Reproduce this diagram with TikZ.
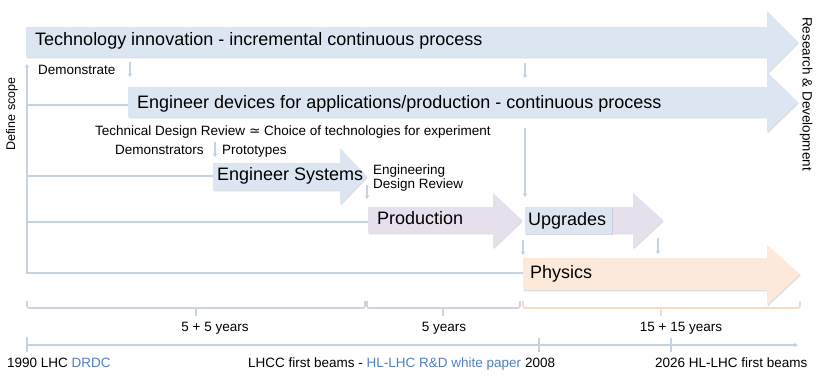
\documentclass[tikz,border=0pt]{standalone}
\usepackage{fontspec}
\setmainfont{Liberation Sans}
\newfontfamily\symfont{DejaVu Sans}
\usetikzlibrary{arrows.meta}
\definecolor{blueF}{HTML}{DCE6F2}
\definecolor{purpleF}{HTML}{E6E0EC}
\definecolor{orangeF}{HTML}{FDE9D9}
\definecolor{lineC}{HTML}{C6D2E1}
\definecolor{braceB}{HTML}{CBD4DF}
\definecolor{braceP}{HTML}{D6CFDE}
\definecolor{braceO}{HTML}{F5DAC4}
\definecolor{linkC}{HTML}{4F81BD}
\definecolor{shadowC}{HTML}{AEB6C0}
\newcommand\bigfnt{\fontsize{18}{20}\selectfont}
\newcommand\smallfnt{\fontsize{13.5}{14}\selectfont}
% #1 fill, #2 x0, #3 head base, #4 tip, #5 body top, #6 body bottom, #7 head top, #8 head bottom
\newcommand\fatarrow[8]{%
  \fill[shadowC, opacity=0.45, xshift=0.8pt, yshift=-1.4pt] (#2,#5) -- (#3,#5) -- (#3,#7) -- (#4,{(#5+#6)/2}) -- (#3,#8) -- (#3,#6) -- (#2,#6) -- cycle;
  \fill[#1] (#2,#5) -- (#3,#5) -- (#3,#7) -- (#4,{(#5+#6)/2}) -- (#3,#8) -- (#3,#6) -- (#2,#6) -- cycle;}
\tikzset{
  bigtxt/.style={font=\bigfnt, inner sep=0pt, anchor=base west},
  smalltxt/.style={font=\smallfnt, inner sep=0pt, anchor=base west},
  guide/.style={draw=lineC, line width=2pt},
  dropar/.style={draw=lineC, line width=1.3pt, -{Stealth[length=3.5pt,width=5pt]}},
  bracket/.style={line width=1.6pt, rounded corners=2pt},
}
\begin{document}
\begin{tikzpicture}[x=1pt, y=-1pt]
\useasboundingbox (0,0) rectangle (822,376);
% coordinates
\coordinate (vtop) at (27,64);
\coordinate (vbot) at (27,273);
% guide lines
\draw[guide, {Stealth[length=4pt,width=5pt]}-] (vtop) -- (vbot) -- (524,273);
\draw[guide] (27,105) -- (130,105);
\draw[guide] (27,176) -- (215,176);
\draw[guide] (27,222) -- (370,222);
% big arrows
\fatarrow{blueF}{26}{767}{798}{27}{57}{11}{73}
\fatarrow{blueF}{128}{767}{798}{87}{117}{72}{132}
\fatarrow{blueF}{213}{340}{367}{163}{190}{148}{204}
\fatarrow{purpleF}{368}{493}{522}{207}{233}{193}{248}
\fatarrow{purpleF}{525}{633}{663}{207}{233}{193}{248}
\fill[shadowC, opacity=0.45, xshift=0.8pt, yshift=-1.4pt] (525,207) rectangle (612,234);
\fill[blueF] (525,207) rectangle (612,234);
\fatarrow{orangeF}{523}{767}{800}{258}{290}{245}{305}
% big texts
\node[bigtxt] (tech) at (35,45.5) {Technology innovation - incremental continuous process};
\node[bigtxt] (devices) at (137,108) {Engineer devices for applications/production - continuous process};
\node[bigtxt] (systems) at (217,180) {Engineer Systems};
\node[bigtxt] (production) at (377,224.5) {Production};
\node[bigtxt] (upgrades) at (528,225) {Upgrades};
\node[bigtxt] (physics) at (530,278) {Physics};
% small texts
\node[smalltxt] (demonstrate) at (38,74) {Demonstrate};
\node[smalltxt] (tdr) at (95,135) {Technical Design Review {\symfont ≃} Choice of technologies for experiment};
\node[smalltxt] (demonstrators) at (115,154) {Demonstrators};
\node[smalltxt] (prototypes) at (222,154) {Prototypes};
\node[smalltxt] (eng1) at (373,174) {Engineering};
\node[smalltxt] (eng2) at (373,188) {Design Review};
\node[font=\smallfnt, inner sep=0pt, rotate=-90] (rd) at (806,94) {Research \& Development};
\node[font=\fontsize{12.5}{13}\selectfont, inner sep=0pt, rotate=90] (scope) at (12,114) {Define scope};
% drop arrows
\draw[dropar] (130,62) -- (130,77);
\draw[dropar] (525,63) -- (525,78);
\draw[dropar] (215,142) -- (215,157);
\draw[dropar] (367,185) -- (367,199);
\draw[dropar] (525,128) -- (525,197);
\draw[dropar] (523,240) -- (523,255);
\draw[dropar] (658,238) -- (658,254);
% brackets
\draw[bracket, draw=braceB] (27,301) -- (27,308) -- (365,308) -- (365,301);
\draw[line width=1.6pt, draw=braceB] (196,308) -- (196,316);
\draw[bracket, draw=braceP] (367,301) -- (367,308) -- (520,308) -- (520,301);
\draw[line width=1.6pt, draw=braceP] (443,308) -- (443,316);
\draw[bracket, draw=braceO] (523,301) -- (523,308) -- (800,308) -- (800,301);
\draw[line width=1.6pt, draw=braceO] (661,308) -- (661,316);
\node[smalltxt, anchor=base] (y1) at (215,331) {5 + 5 years};
\node[smalltxt, anchor=base] (y2) at (444,331) {5 years};
\node[smalltxt, anchor=base] (y3) at (681,331) {15 + 15 years};
% timeline
\coordinate (tl0) at (27,345);
\coordinate (tl1) at (798,345);
\draw[line width=1.6pt, draw=lineC, -{Stealth[length=4pt,width=4pt]}] (tl0) -- (tl1);
\draw[line width=1.6pt, draw=lineC] (27,337) -- (27,352);
\draw[line width=1.6pt, draw=lineC] (539,338) -- (539,352);
\draw[line width=1.6pt, draw=lineC] (671,338) -- (671,352);
\node[smalltxt] (l1990) at (7,367) {1990 LHC \textcolor{linkC}{DRDC}};
\node[smalltxt] (l2008) at (248,367) {LHCC first beams - \textcolor{linkC}{HL-LHC R\&D white paper} 2008};
\node[smalltxt] (l2026) at (655,367) {2026 HL-LHC first beams};
\end{tikzpicture}
\end{document}
